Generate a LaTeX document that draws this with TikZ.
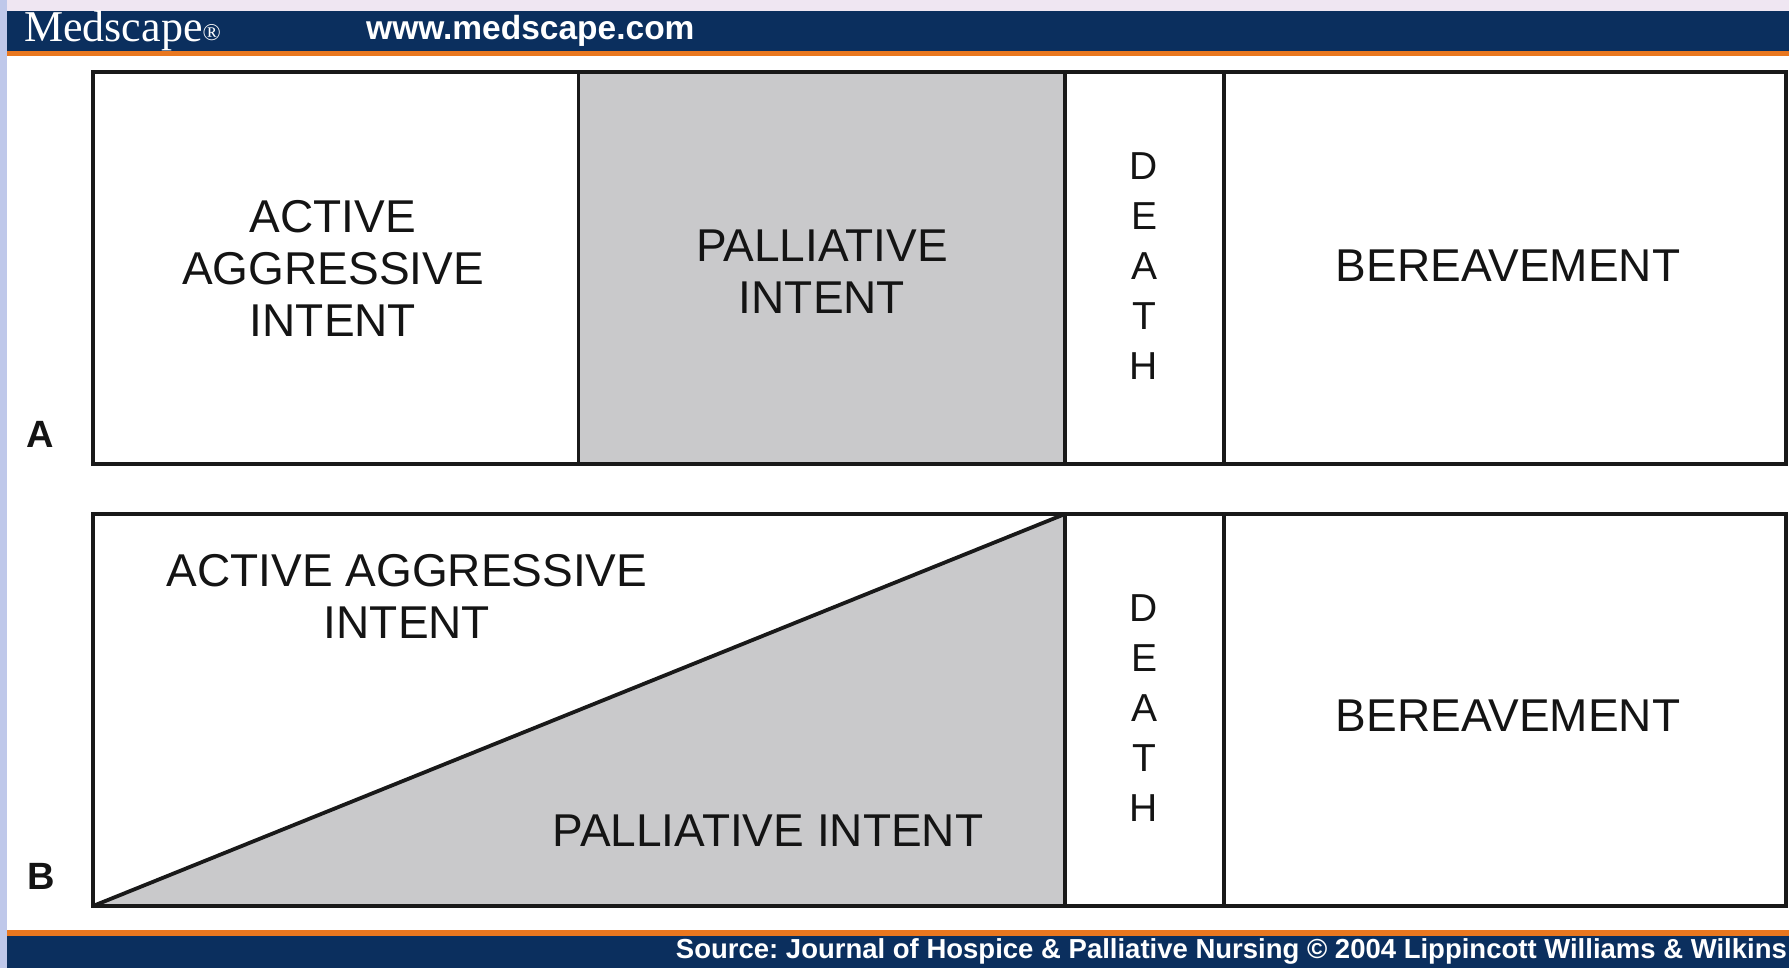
\documentclass[tikz,border=0pt]{standalone}
\usepackage{fontspec}
\setmainfont{Liberation Sans}
\newfontfamily\medserif{Liberation Serif}
\frenchspacing
\definecolor{navy}{HTML}{0B2F5E}
\definecolor{stripe}{HTML}{E9771F}
\definecolor{cellgray}{HTML}{C9C9CB}
\definecolor{lav}{HTML}{EFE6F2}
\definecolor{edge}{HTML}{BFC8EA}
\tikzset{
  box/.style={draw=black!90, line width=3.8pt, line join=miter},
  maintext/.style={align=center, inner sep=0pt, font=\fontsize{46}{52}\selectfont, text=black!92},
  deathtext/.style={align=center, inner sep=0pt, font=\fontsize{39}{50}\selectfont, text=black!92},
  rowlabel/.style={inner sep=0pt, font=\fontsize{38}{40}\selectfont\bfseries, text=black!92},
}
\begin{document}
\begin{tikzpicture}[x=1pt,y=-1pt]
\useasboundingbox (0,0) rectangle (1789,968);
% page background
\fill[lav] (0,0) rectangle (1789,968);
\fill[edge] (0,0) rectangle (7,968);
\fill[white] (7,11) rectangle (1789,968);
% header
\fill[navy] (7,11) rectangle (1789,51);
\fill[stripe] (7,51) rectangle (1789,56);
\node[anchor=west, inner sep=0pt, text=white, font=\medserif\fontsize{44}{44}\selectfont] (logo) at (24,31) {Medscape\raisebox{0.03em}{\fontsize{24}{24}\selectfont\textregistered}};
\node[anchor=west, inner sep=0pt, text=white, font=\fontsize{33.5}{34}\selectfont\bfseries] (url) at (366,31) {www.medscape.com};
% footer
\fill[stripe] (7,930) rectangle (1789,936);
\fill[navy] (7,936) rectangle (1789,968);
\node[anchor=east, inner sep=0pt, text=white, font=\fontsize{27.5}{28}\selectfont\bfseries] (source) at (1787,951) {Source: Journal of Hospice \& Palliative Nursing \textcopyright\ 2004 Lippincott Williams \& Wilkins};

% ---- Row A ----
\fill[cellgray] (578.5,72) rectangle (1065,464);
\draw[box] (93,72) rectangle (1786,464);
\draw[box] (578.5,72) -- (578.5,464);
\draw[box] (1065,72) -- (1065,464);
\draw[box] (1224,72) -- (1224,464);
\node[maintext] (aActive) at (333,268) {ACTIVE\\AGGRESSIVE\\INTENT};
\node[maintext] (aPall) at (822,272) {PALLIATIVE\\INTENT};
\node[deathtext] (aDeath) at (1144,266) {D\\E\\A\\T\\H};
\node[maintext] (aBer) at (1508,266) {BEREAVEMENT};
\node[rowlabel] (labA) at (40,434) {A};

% ---- Row B ----
\fill[cellgray] (93,906) -- (1065,514) -- (1065,906) -- cycle;
\draw[box] (93,514) rectangle (1786,906);
\draw[box] (93,906) -- (1065,514);
\draw[box] (1065,514) -- (1065,906);
\draw[box] (1224,514) -- (1224,906);
\node[maintext] (bActive) at (407,596) {ACTIVE AGGRESSIVE\\INTENT};
\node[maintext] (bPall) at (768,831) {PALLIATIVE INTENT};
\node[deathtext] (bDeath) at (1144,708) {D\\E\\A\\T\\H};
\node[maintext] (bBer) at (1508,716) {BEREAVEMENT};
\node[rowlabel] (labB) at (41,876) {B};
\end{tikzpicture}
\end{document}
